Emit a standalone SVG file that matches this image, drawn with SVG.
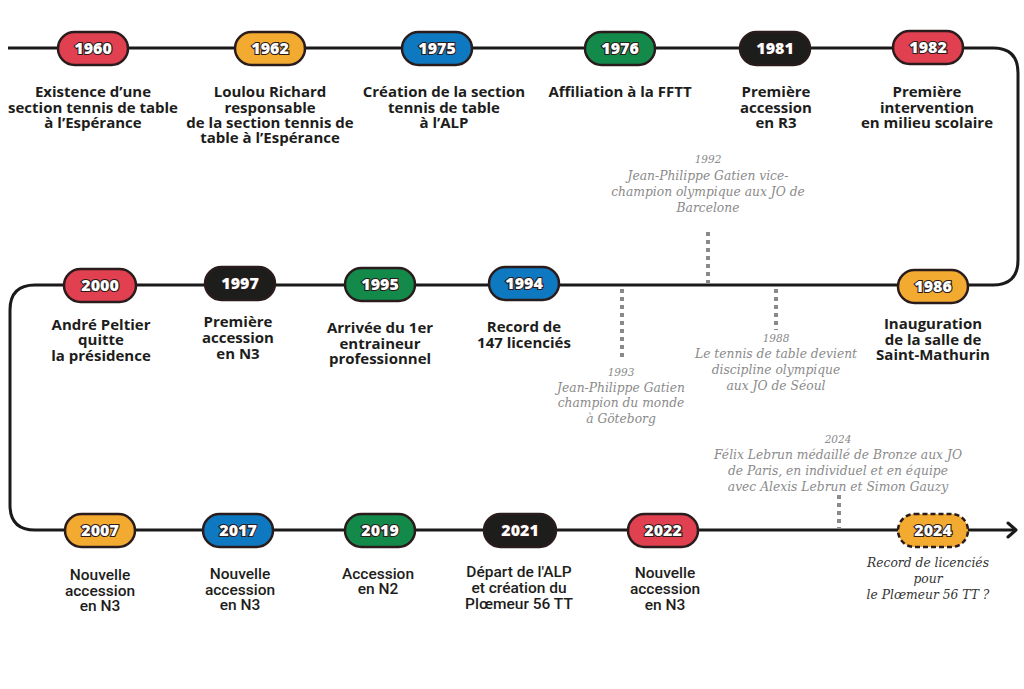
<svg xmlns="http://www.w3.org/2000/svg" width="1024" height="689" viewBox="0 0 1024 689">
<style>
.pill{stroke:#2a1c1c;stroke-width:2.5}
.red{fill:#E0404F}.yel{fill:#F2AA30}.blu{fill:#0E78C0}.grn{fill:#13894A}.blk{fill:#1d1d1b}
.yr{font-family:"Open Sans","Liberation Sans",sans-serif;font-weight:800;font-size:16px;fill:#fff;stroke:#2a1c1c;stroke-width:2.2;paint-order:stroke;text-anchor:middle}
.lb{font-family:"Open Sans","Liberation Sans",sans-serif;font-weight:700;font-size:15px;fill:#1d1d1b;text-anchor:middle}
.lc{font-family:Roboto,"Liberation Sans",sans-serif;font-weight:500;font-size:15.5px;fill:#1d1d1b;text-anchor:middle}
.an{font-family:"DejaVu Serif","Liberation Serif",serif;font-style:italic;font-size:12.3px;fill:#8a8a8a;text-anchor:middle}
.ay{font-size:10.5px}
.dk{fill:#333}
.dot{stroke:#8a8a8a;stroke-width:4;stroke-dasharray:4 4;fill:none}
</style>
<rect width="1024" height="689" fill="#fff"/>
<g id="connectors">
<path d="M8,48 H993 Q1018,48 1018,73 V260 Q1018,285 993,285 H35 Q10,285 10,310 V505 Q10,530 35,530 H1015" fill="none" stroke="#1a1a1a" stroke-width="3"/>
<path d="M1008,523 L1016,530 L1008,537" fill="none" stroke="#1a1a1a" stroke-width="3" stroke-linecap="round" stroke-linejoin="round"/>
<line class="dot" x1="708" y1="232" x2="708" y2="284"/>
<line class="dot" x1="622" y1="289" x2="622" y2="358"/>
<line class="dot" x1="776" y1="289" x2="776" y2="330"/>
<line class="dot" x1="839" y1="495" x2="839" y2="528"/>
</g>
<g id="n1960"><rect class="pill red" x="58" y="32" width="70" height="33" rx="16.5"/><text class="yr" x="93" y="54">1960</text>
<text class="lb"><tspan x="93" y="97">Existence d’une</tspan><tspan x="93" y="113">section tennis de table</tspan><tspan x="93" y="128">à l’Espérance</tspan></text></g>
<g id="n1962"><rect class="pill yel" x="235" y="32" width="70" height="33" rx="16.5"/><text class="yr" x="270" y="54">1962</text>
<text class="lb"><tspan x="270" y="97">Loulou Richard</tspan><tspan x="270" y="113">responsable</tspan><tspan x="270" y="128">de la section tennis de</tspan><tspan x="270" y="143">table à l’Espérance</tspan></text></g>
<g id="n1975"><rect class="pill blu" x="402" y="32" width="70" height="33" rx="16.5"/><text class="yr" x="437" y="54">1975</text>
<text class="lb"><tspan x="444" y="97">Création de la section</tspan><tspan x="444" y="113">tennis de table</tspan><tspan x="444" y="128">à l’ALP</tspan></text></g>
<g id="n1976"><rect class="pill grn" x="585" y="32" width="70" height="33" rx="16.5"/><text class="yr" x="620" y="54">1976</text>
<text class="lb"><tspan x="620" y="97">Affiliation à la FFTT</tspan></text></g>
<g id="n1981"><rect class="pill blk" x="740" y="32" width="70" height="33" rx="16.5"/><text class="yr" x="775" y="54">1981</text>
<text class="lb"><tspan x="776" y="97">Première</tspan><tspan x="776" y="113">accession</tspan><tspan x="776" y="128">en R3</tspan></text></g>
<g id="n1982"><rect class="pill red" x="893" y="31" width="70" height="33" rx="16.5"/><text class="yr" x="928" y="53">1982</text>
<text class="lb"><tspan x="927" y="97">Première</tspan><tspan x="927" y="113">intervention</tspan><tspan x="927" y="128">en milieu scolaire</tspan></text></g>
<g id="n1986"><rect class="pill yel" x="898" y="270" width="70" height="33" rx="16.5"/><text class="yr" x="933" y="292">1986</text>
<text class="lb"><tspan x="933" y="329">Inauguration</tspan><tspan x="933" y="345">de la salle de</tspan><tspan x="933" y="360">Saint-Mathurin</tspan></text></g>
<g id="n1994"><rect class="pill blu" x="489" y="267" width="70" height="33" rx="16.5"/><text class="yr" x="524" y="289">1994</text>
<text class="lb"><tspan x="524" y="332">Record de</tspan><tspan x="524" y="348">147 licenciés</tspan></text></g>
<g id="n1995"><rect class="pill grn" x="345" y="268" width="70" height="33" rx="16.5"/><text class="yr" x="380" y="290">1995</text>
<text class="lb"><tspan x="380" y="333">Arrivée du 1er</tspan><tspan x="380" y="349">entraineur</tspan><tspan x="380" y="364">professionnel</tspan></text></g>
<g id="n1997"><rect class="pill blk" x="205" y="267" width="70" height="33" rx="16.5"/><text class="yr" x="240" y="289">1997</text>
<text class="lb"><tspan x="238" y="327">Première</tspan><tspan x="238" y="343">accession</tspan><tspan x="238" y="359">en N3</tspan></text></g>
<g id="n2000"><rect class="pill red" x="64" y="269" width="72" height="33" rx="16.5"/><text class="yr" x="100" y="291">2000</text>
<text class="lb"><tspan x="101" y="330">André Peltier</tspan><tspan x="101" y="345">quitte</tspan><tspan x="101" y="361">la présidence</tspan></text></g>
<g id="n2007"><rect class="pill yel" x="65" y="514" width="70" height="33" rx="16.5"/><text class="yr" x="100" y="536">2007</text>
<text class="lc"><tspan x="100" y="580">Nouvelle</tspan><tspan x="100" y="596">accession</tspan><tspan x="100" y="611">en N3</tspan></text></g>
<g id="n2017"><rect class="pill blu" x="203" y="514" width="70" height="33" rx="16.5"/><text class="yr" x="238" y="536">2017</text>
<text class="lc"><tspan x="240" y="579">Nouvelle</tspan><tspan x="240" y="595">accession</tspan><tspan x="240" y="610">en N3</tspan></text></g>
<g id="n2019"><rect class="pill grn" x="345" y="514" width="70" height="33" rx="16.5"/><text class="yr" x="380" y="536">2019</text>
<text class="lc"><tspan x="378" y="579">Accession</tspan><tspan x="378" y="594">en N2</tspan></text></g>
<g id="n2021"><rect class="pill blk" x="484" y="514" width="72" height="33" rx="16.5"/><text class="yr" x="520" y="536">2021</text>
<text class="lc"><tspan x="519" y="577">Départ de l'ALP</tspan><tspan x="519" y="593">et création du</tspan><tspan x="519" y="609">Plœmeur 56 TT</tspan></text></g>
<g id="n2022"><rect class="pill red" x="628" y="514" width="70" height="33" rx="16.5"/><text class="yr" x="663" y="536">2022</text>
<text class="lc"><tspan x="665" y="578">Nouvelle</tspan><tspan x="665" y="594">accession</tspan><tspan x="665" y="610">en N3</tspan></text></g>
<g id="n2024"><rect class="yel" x="898" y="514" width="70" height="33" rx="16.5" stroke="#2a1c1c" stroke-width="2.5" stroke-dasharray="5 3"/><text class="yr" x="933" y="536">2024</text>
<text class="an dk"><tspan x="928" y="567">Record de licenciés</tspan><tspan x="928" y="583">pour</tspan><tspan x="928" y="599">le Plœmeur 56 TT ?</tspan></text></g>
<g id="a1992"><text class="an"><tspan class="ay" x="708" y="163">1992</tspan><tspan x="708" y="180">Jean-Philippe Gatien vice-</tspan><tspan x="708" y="196">champion olympique aux JO de</tspan><tspan x="708" y="212">Barcelone</tspan></text></g>
<g id="a1993"><text class="an"><tspan class="ay" x="621" y="376">1993</tspan><tspan x="621" y="392">Jean-Philippe Gatien</tspan><tspan x="621" y="407">champion du monde</tspan><tspan x="621" y="423">à Göteborg</tspan></text></g>
<g id="a1988"><text class="an"><tspan class="ay" x="776" y="342">1988</tspan><tspan x="776" y="358">Le tennis de table devient</tspan><tspan x="776" y="374">discipline olympique</tspan><tspan x="776" y="390">aux JO de Séoul</tspan></text></g>
<g id="a2024"><text class="an"><tspan class="ay" x="838" y="443">2024</tspan><tspan x="838" y="459">Félix Lebrun médaillé de Bronze aux JO</tspan><tspan x="838" y="475">de Paris, en individuel et en équipe</tspan><tspan x="838" y="491">avec Alexis Lebrun et Simon Gauzy</tspan></text></g>
</svg>
